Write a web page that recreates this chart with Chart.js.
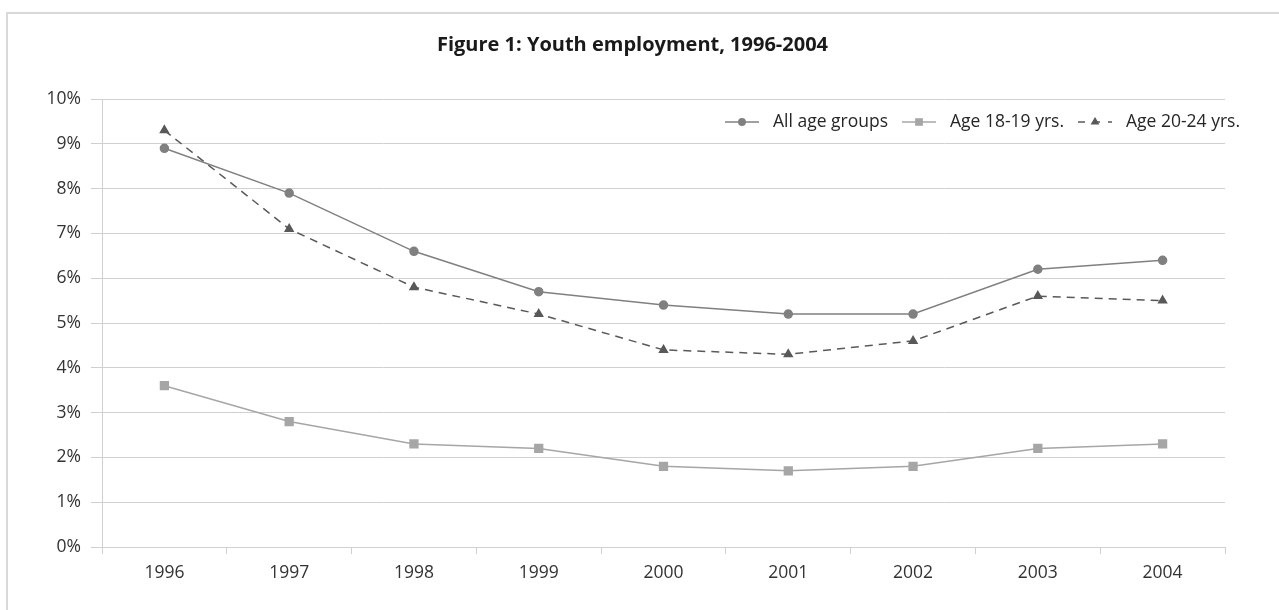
<!DOCTYPE html>
<html>
<head>
<meta charset="utf-8">
<script src="https://cdn.jsdelivr.net/npm/chart.js@4.4.0/dist/chart.umd.min.js"></script>
<style>
  html, body { margin: 0; padding: 0; background: #fff; overflow: hidden; }
  #frame { position: absolute; left: 6px; top: 12px; width: 1400px; height: 700px; border: 2px solid #d9d9d9; }
  #wrap { position: absolute; left: 0; top: 0; width: 1279px; height: 610px; }
</style>
</head>
<body>
<div id="frame"></div>
<div id="wrap"><canvas id="chart" width="1279" height="610"></canvas></div>
<script>
// data
const years = ['1996', '1997', '1998', '1999', '2000', '2001', '2002', '2003', '2004'];
const allAges = [8.9, 7.9, 6.6, 5.7, 5.4, 5.2, 5.2, 6.2, 6.4];
const age1819 = [3.6, 2.8, 2.3, 2.2, 1.8, 1.7, 1.8, 2.2, 2.3];
const age2024 = [9.3, 7.1, 5.8, 5.2, 4.4, 4.3, 4.6, 5.6, 5.5];
const yTicks = [0, 1, 2, 3, 4, 5, 6, 7, 8, 9, 10];

const FONT = '"Open Sans", sans-serif';

// legend drawn inside the plot, top right, line + marker like Excel
const insideLegend = {
    id: 'insideLegend',
    afterDraw(chart) {
        const ctx = chart.ctx;
        const right = chart.chartArea.right + 15;
        const y = 122;
        ctx.save();
        ctx.font = '17.5px ' + FONT;
        ctx.textBaseline = 'middle';
        const symW = 34, gap = 14, itemGap = 14;
        const items = chart.data.datasets.map(ds => ({ ds, w: ctx.measureText(ds.label).width }));
        const total = items.reduce((s, it) => s + symW + gap + it.w, 0) + itemGap * (items.length - 1);
        let x = right - total;
        items.forEach(({ ds, w }) => {
            ctx.strokeStyle = ds.borderColor;
            ctx.lineWidth = ds.borderWidth;
            ctx.setLineDash(ds.borderDash ? [7, 8] : []);
            ctx.beginPath();
            ctx.moveTo(x, y);
            ctx.lineTo(x + symW, y);
            ctx.stroke();
            ctx.setLineDash([]);
            ctx.fillStyle = ds.pointBackgroundColor;
            ctx.strokeStyle = ds.pointBackgroundColor;
            Chart.helpers.drawPoint(ctx, { pointStyle: ds.pointStyle, radius: ds.pointRadius * 0.8, borderWidth: 1 }, x + symW / 2, y);
            ctx.fillStyle = '#262626';
            ctx.fillText(ds.label, x + symW + gap, y);
            x += symW + gap + w + itemGap;
        });
        ctx.restore();
    }
};

new Chart(document.getElementById('chart'), {
    type: 'line',
    data: {
        labels: years,
        datasets: [
            {
                label: 'All age groups',
                data: allAges,
                borderColor: '#808080',
                borderWidth: 1.5,
                pointStyle: 'circle',
                pointRadius: 4,
                pointBackgroundColor: '#808080',
                pointBorderColor: '#808080'
            },
            {
                label: 'Age 18-19 yrs.',
                data: age1819,
                borderColor: '#a6a6a6',
                borderWidth: 1.5,
                pointStyle: 'rect',
                pointRadius: 5.5,
                pointBackgroundColor: '#a6a6a6',
                pointBorderColor: '#a6a6a6'
            },
            {
                label: 'Age 20-24 yrs.',
                data: age2024,
                borderColor: '#595959',
                borderWidth: 1.5,
                borderDash: [8, 6],
                pointStyle: 'triangle',
                pointRadius: 4.5,
                pointBackgroundColor: '#595959',
                pointBorderColor: '#595959'
            }
        ]
    },
    options: {
        responsive: false,
        animation: false,
        devicePixelRatio: 1,
        // some left padding pulls the title towards the page centre
        layout: { padding: { left: 40, right: 54, top: 0, bottom: 0 } },
        plugins: {
            legend: { display: false },
            tooltip: { enabled: false },
            title: {
                display: true,
                text: 'Figure 1: Youth employment, 1996-2004',
                color: '#1a1a1a',
                font: { family: FONT, size: 20, weight: 'bold' },
                padding: { top: 33, bottom: 42 }
            }
        },
        scales: {
            x: {
                offset: true,
                grid: { offset: true, drawOnChartArea: false, color: '#d0d0d0', tickLength: 7 },
                border: { color: '#d0d0d0' },
                ticks: { color: '#333333', font: { family: FONT, size: 17.5 }, padding: 9 },
                afterFit: s => { s.height = 63; }
            },
            y: {
                min: 0,
                max: 10,
                afterBuildTicks: s => { s.ticks = yTicks.map(v => ({ value: v })); },
                grid: { color: '#d0d0d0', tickLength: 11 },
                border: { color: '#d0d0d0' },
                ticks: { color: '#333333', font: { family: FONT, size: 17.5 }, padding: 10, callback: v => v + '%' },
                afterFit: s => { s.width = 62; }
            }
        }
    },
    plugins: [insideLegend]
});
</script>
</body>
</html>
